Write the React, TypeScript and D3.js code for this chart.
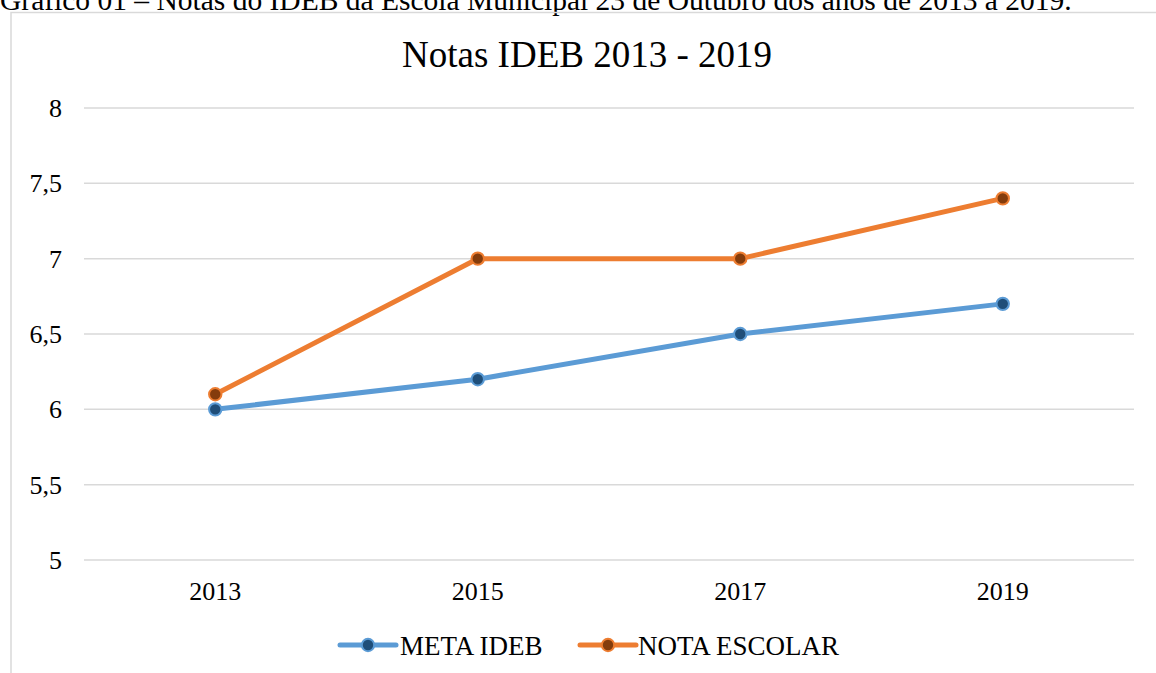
import React from "react";
import * as d3 from "d3";

const years = ["2013", "2015", "2017", "2019"];
const metaIdeb = [6.0, 6.2, 6.5, 6.7];
const notaEscolar = [6.1, 7.0, 7.0, 7.4];
const yTicks = [5, 5.5, 6, 6.5, 7, 7.5, 8];

const series = [
  { name: "META IDEB", values: metaIdeb, color: "#5B9BD5", marker: "#1F4E79" },
  { name: "NOTA ESCOLAR", values: notaEscolar, color: "#ED7D31", marker: "#843C0C" },
];

const FONT = "Liberation Serif, Times New Roman, serif";

export default function App() {
  const W = 1156, H = 673;
  const left = 84, right = 1134, top = 108, bottom = 560;
  const x = d3.scaleBand<string>().domain(years).range([left, right]);
  const y = d3.scaleLinear().domain([5, 8]).range([bottom, top]);
  const fmt = (v: number) => String(v).replace(".", ",");
  const ts = { fontFamily: FONT } as React.CSSProperties;
  const line = d3.line<number>()
    .x((_, i) => (x(years[i]) as number) + x.bandwidth() / 2)
    .y((d) => y(d));
  const legendX = [340, 580];
  const legendTextX = [400, 638];
  return (
    <svg width={W} height={H} style={{ position: "absolute", left: 0, top: 0, background: "#fff", fontFamily: FONT }}>
      <text x={0} y={9.5} fontSize={29.5} fill="#000" style={ts}>Gráfico 01 – Notas do IDEB da Escola Municipal 23 de Outubro dos anos de 2013 a 2019.</text>
      <rect x={11} y={12.5} width={1160} height={680} fill="none" stroke="#D9D9D9" strokeWidth={1.5} />
      <text x={587} y={66.5} textAnchor="middle" fontSize={37} fill="#000" style={ts}>Notas IDEB 2013 - 2019</text>
      {yTicks.map((t) => (
        <g key={t}>
          <line x1={left} x2={right} y1={y(t)} y2={y(t)} stroke="#D9D9D9" strokeWidth={1.5} />
          <text x={62} y={y(t)} dy="0.35em" textAnchor="end" fontSize={26} fill="#000" style={ts}>{fmt(t)}</text>
        </g>
      ))}
      {years.map((yr) => (
        <text key={yr} x={(x(yr) as number) + x.bandwidth() / 2} y={600} textAnchor="middle" fontSize={26} fill="#000" style={ts}>{yr}</text>
      ))}
      {series.map((s) => (
        <g key={s.name}>
          <path d={line(s.values) || ""} fill="none" stroke={s.color} strokeWidth={5} strokeLinejoin="round" strokeLinecap="round" />
          {s.values.map((v, i) => (
            <circle key={i} cx={(x(years[i]) as number) + x.bandwidth() / 2} cy={y(v)} r={6.2} fill={s.marker} stroke={s.color} strokeWidth={2} />
          ))}
        </g>
      ))}
      {series.map((s, i) => (
        <g key={s.name}>
          <line x1={legendX[i]} x2={legendX[i] + 56} y1={645} y2={645} stroke={s.color} strokeWidth={5} strokeLinecap="round" />
          <circle cx={legendX[i] + 28} cy={645} r={6.2} fill={s.marker} stroke={s.color} strokeWidth={2} />
          <text x={legendTextX[i]} y={655} fontSize={27} fill="#000" style={ts}>{s.name}</text>
        </g>
      ))}
    </svg>
  );
}
